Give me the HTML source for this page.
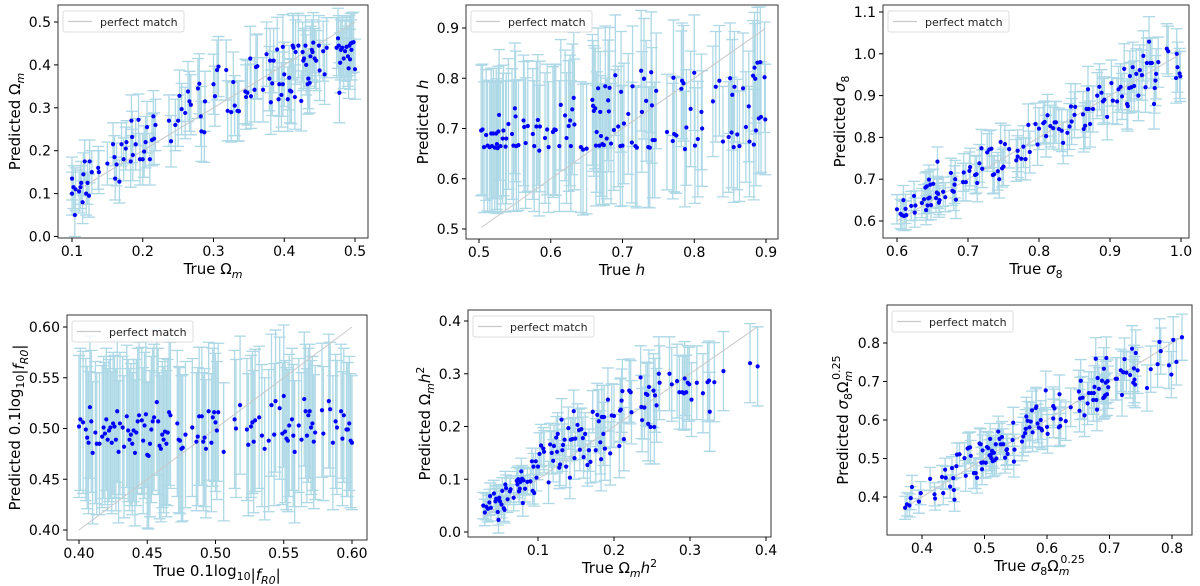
<!DOCTYPE html>
<html><head><meta charset="utf-8"><style>
html,body{margin:0;padding:0;background:#fff;}
svg{display:block;font-family:"DejaVu Sans","Liberation Sans",sans-serif;}
</style></head><body>
<svg id="fig" width="1200" height="586" viewBox="0 0 1200 586" xmlns="http://www.w3.org/2000/svg"></svg>
<script>
// ---------- DATA ----------
const p1X=[0.10,0.10,0.102,0.104,0.105,0.11,0.112,0.113,0.115,0.116,0.118,0.12,0.122,0.124,0.125,0.128,0.137,0.138,0.15,0.158,0.16,0.161,0.163,0.167,0.17,0.173,0.176,0.177,0.183,0.184,0.185,0.186,0.19,0.194,0.196,0.2,0.202,0.204,0.206,0.21,0.213,0.215,0.216,0.218,0.237,0.24,0.246,0.25,0.252,0.255,0.26,0.264,0.266,0.268,0.278,0.28,0.282,0.283,0.287,0.288,0.3,0.302,0.305,0.307,0.318,0.32,0.325,0.328,0.33,0.334,0.336,0.345,0.346,0.348,0.352,0.353,0.358,0.36,0.362,0.37,0.375,0.379,0.38,0.381,0.383,0.385,0.39,0.392,0.393,0.396,0.398,0.398,0.4,0.405,0.407,0.408,0.41,0.412,0.413,0.415,0.416,0.42,0.424,0.426,0.427,0.428,0.43,0.431,0.433,0.434,0.436,0.437,0.439,0.44,0.441,0.443,0.445,0.449,0.45,0.455,0.457,0.46,0.474,0.476,0.477,0.478,0.479,0.48,0.482,0.484,0.486,0.488,0.49,0.491,0.492,0.493,0.494,0.495,0.496,0.498,0.5];
const p1Y=[0.10,0.135,0.115,0.05,0.11,0.105,0.115,0.125,0.08,0.145,0.175,0.10,0.125,0.095,0.175,0.15,0.16,0.15,0.17,0.215,0.185,0.135,0.168,0.128,0.215,0.18,0.205,0.22,0.175,0.27,0.232,0.19,0.215,0.272,0.18,0.18,0.198,0.22,0.255,0.18,0.225,0.28,0.228,0.26,0.27,0.222,0.26,0.27,0.328,0.297,0.288,0.338,0.315,0.307,0.345,0.356,0.28,0.245,0.243,0.315,0.355,0.327,0.388,0.396,0.388,0.293,0.29,0.36,0.305,0.293,0.292,0.338,0.325,0.335,0.415,0.327,0.342,0.395,0.397,0.342,0.425,0.368,0.41,0.313,0.357,0.41,0.436,0.32,0.355,0.33,0.355,0.442,0.378,0.32,0.37,0.34,0.338,0.445,0.44,0.325,0.43,0.445,0.316,0.43,0.41,0.415,0.445,0.40,0.355,0.368,0.358,0.42,0.435,0.43,0.452,0.415,0.41,0.445,0.387,0.432,0.378,0.44,0.44,0.462,0.445,0.335,0.405,0.435,0.44,0.415,0.432,0.442,0.42,0.392,0.445,0.413,0.45,0.435,0.452,0.453,0.39];
const p1Err=[0.05,0.06,0.07,0.075,0.07];

const p2X=[0.503,0.505,0.507,0.51,0.512,0.515,0.517,0.518,0.52,0.522,0.524,0.525,0.526,0.527,0.528,0.53,0.533,0.534,0.537,0.538,0.541,0.546,0.548,0.55,0.551,0.552,0.555,0.562,0.563,0.565,0.568,0.575,0.577,0.58,0.582,0.584,0.585,0.592,0.595,0.597,0.603,0.605,0.607,0.612,0.614,0.62,0.622,0.625,0.627,0.628,0.63,0.632,0.633,0.642,0.645,0.65,0.658,0.659,0.66,0.662,0.663,0.664,0.666,0.668,0.669,0.67,0.672,0.674,0.676,0.678,0.68,0.681,0.682,0.684,0.688,0.69,0.694,0.697,0.698,0.7,0.702,0.708,0.713,0.714,0.718,0.72,0.726,0.727,0.73,0.733,0.736,0.738,0.74,0.741,0.742,0.745,0.747,0.762,0.77,0.771,0.772,0.775,0.782,0.783,0.785,0.787,0.789,0.795,0.8,0.801,0.805,0.81,0.811,0.826,0.83,0.835,0.84,0.848,0.85,0.852,0.853,0.855,0.856,0.86,0.863,0.868,0.872,0.876,0.877,0.882,0.883,0.884,0.885,0.886,0.888,0.89,0.892,0.893,0.898,0.899];
const p2Y=[0.696,0.698,0.663,0.687,0.666,0.663,0.69,0.665,0.69,0.662,0.69,0.669,0.661,0.694,0.727,0.665,0.68,0.696,0.664,0.68,0.709,0.689,0.666,0.74,0.724,0.665,0.667,0.716,0.703,0.671,0.705,0.689,0.665,0.704,0.717,0.656,0.704,0.681,0.698,0.663,0.693,0.698,0.697,0.665,0.747,0.726,0.681,0.705,0.716,0.665,0.738,0.761,0.708,0.663,0.658,0.66,0.757,0.745,0.735,0.74,0.666,0.693,0.78,0.666,0.733,0.685,0.669,0.667,0.784,0.68,0.756,0.734,0.781,0.67,0.697,0.806,0.704,0.665,0.773,0.666,0.71,0.729,0.672,0.784,0.665,0.662,0.815,0.733,0.799,0.755,0.663,0.662,0.812,0.746,0.677,0.677,0.775,0.693,0.675,0.801,0.689,0.686,0.779,0.795,0.79,0.659,0.702,0.739,0.811,0.666,0.679,0.733,0.70,0.754,0.783,0.795,0.674,0.683,0.80,0.692,0.767,0.663,0.783,0.688,0.665,0.78,0.703,0.744,0.674,0.805,0.668,0.821,0.799,0.696,0.831,0.72,0.832,0.723,0.802,0.718];
const p2Err=[0.13,0.13,0.12,0.115,0.11];

const p3X=[0.60,0.605,0.607,0.609,0.61,0.612,0.613,0.62,0.624,0.625,0.626,0.635,0.638,0.64,0.641,0.642,0.643,0.644,0.645,0.646,0.647,0.648,0.651,0.655,0.656,0.657,0.658,0.659,0.66,0.665,0.668,0.676,0.678,0.68,0.681,0.682,0.683,0.693,0.694,0.697,0.702,0.703,0.71,0.712,0.713,0.716,0.719,0.72,0.727,0.73,0.733,0.735,0.737,0.742,0.744,0.746,0.748,0.75,0.752,0.758,0.768,0.77,0.77,0.775,0.778,0.781,0.785,0.787,0.795,0.798,0.80,0.806,0.808,0.81,0.812,0.816,0.82,0.822,0.824,0.828,0.832,0.834,0.84,0.843,0.845,0.846,0.85,0.851,0.862,0.863,0.865,0.867,0.869,0.87,0.872,0.876,0.882,0.885,0.888,0.89,0.892,0.896,0.902,0.904,0.91,0.912,0.915,0.917,0.92,0.924,0.925,0.927,0.928,0.93,0.932,0.934,0.937,0.94,0.942,0.945,0.947,0.95,0.952,0.955,0.957,0.959,0.962,0.963,0.964,0.965,0.968,0.98,0.982,0.993,0.994,0.995,0.998,0.999];
const p3Y=[0.628,0.617,0.614,0.65,0.612,0.629,0.614,0.636,0.66,0.62,0.637,0.643,0.652,0.68,0.626,0.683,0.637,0.654,0.699,0.656,0.687,0.638,0.689,0.655,0.668,0.742,0.665,0.644,0.65,0.67,0.657,0.715,0.672,0.67,0.687,0.70,0.651,0.693,0.716,0.693,0.72,0.729,0.71,0.712,0.691,0.738,0.774,0.725,0.764,0.771,0.773,0.71,0.712,0.719,0.70,0.789,0.726,0.73,0.784,0.772,0.745,0.754,0.768,0.749,0.778,0.748,0.83,0.765,0.832,0.783,0.821,0.834,0.837,0.803,0.853,0.827,0.822,0.836,0.836,0.82,0.816,0.787,0.811,0.826,0.874,0.838,0.854,0.873,0.855,0.82,0.828,0.868,0.915,0.868,0.832,0.868,0.90,0.921,0.907,0.886,0.89,0.849,0.93,0.888,0.886,0.915,0.921,0.898,0.964,0.88,0.875,0.918,0.947,0.92,0.968,0.923,0.952,0.90,0.961,0.949,0.995,0.92,0.978,1.029,0.978,0.978,0.88,0.918,0.936,0.952,0.98,1.012,1.006,0.942,1.0,0.968,0.953,0.946];
const p3Err=[0.035,0.045,0.05,0.055,0.06];

const p4X=[0.40,0.401,0.403,0.405,0.406,0.407,0.408,0.409,0.41,0.412,0.413,0.415,0.417,0.418,0.419,0.42,0.421,0.422,0.423,0.424,0.425,0.426,0.427,0.428,0.429,0.43,0.432,0.433,0.435,0.436,0.437,0.438,0.439,0.44,0.441,0.442,0.443,0.444,0.446,0.447,0.448,0.449,0.45,0.451,0.452,0.453,0.454,0.455,0.457,0.458,0.459,0.46,0.461,0.462,0.463,0.464,0.465,0.466,0.467,0.472,0.473,0.474,0.475,0.476,0.478,0.483,0.486,0.487,0.488,0.49,0.491,0.492,0.493,0.495,0.497,0.498,0.499,0.50,0.501,0.502,0.506,0.514,0.515,0.518,0.523,0.524,0.526,0.527,0.528,0.529,0.532,0.534,0.536,0.539,0.541,0.543,0.544,0.547,0.549,0.55,0.551,0.552,0.553,0.554,0.556,0.557,0.558,0.561,0.563,0.565,0.566,0.567,0.568,0.569,0.57,0.571,0.572,0.573,0.578,0.579,0.583,0.584,0.586,0.588,0.589,0.592,0.593,0.594,0.596,0.597,0.598,0.599,0.60];
const p4Y=[0.502,0.509,0.506,0.499,0.491,0.486,0.521,0.507,0.476,0.496,0.485,0.485,0.492,0.501,0.495,0.509,0.489,0.498,0.501,0.486,0.505,0.502,0.489,0.517,0.477,0.505,0.501,0.482,0.512,0.498,0.489,0.494,0.485,0.498,0.476,0.496,0.507,0.513,0.508,0.488,0.503,0.514,0.474,0.473,0.485,0.499,0.507,0.511,0.526,0.507,0.483,0.48,0.494,0.489,0.497,0.485,0.496,0.516,0.513,0.505,0.489,0.488,0.48,0.481,0.494,0.501,0.487,0.492,0.512,0.512,0.487,0.491,0.48,0.517,0.486,0.511,0.516,0.506,0.498,0.516,0.477,0.509,0.50,0.523,0.499,0.484,0.502,0.506,0.487,0.508,0.511,0.493,0.48,0.488,0.523,0.494,0.527,0.52,0.495,0.532,0.497,0.49,0.488,0.503,0.509,0.493,0.477,0.503,0.489,0.529,0.517,0.493,0.513,0.517,0.501,0.505,0.487,0.496,0.518,0.495,0.527,0.519,0.486,0.507,0.501,0.517,0.49,0.513,0.499,0.499,0.505,0.488,0.486];
const p4Err=[0.07,0.072,0.068,0.07,0.066];

const p5X=[0.028,0.03,0.032,0.034,0.036,0.037,0.038,0.042,0.044,0.045,0.046,0.047,0.048,0.049,0.05,0.052,0.053,0.055,0.056,0.057,0.058,0.06,0.063,0.064,0.068,0.072,0.073,0.074,0.075,0.076,0.077,0.078,0.079,0.08,0.081,0.083,0.086,0.09,0.092,0.093,0.094,0.095,0.097,0.098,0.10,0.102,0.104,0.107,0.108,0.114,0.116,0.118,0.12,0.121,0.124,0.125,0.126,0.128,0.129,0.131,0.132,0.133,0.135,0.137,0.14,0.142,0.143,0.145,0.147,0.148,0.149,0.152,0.154,0.155,0.157,0.159,0.16,0.162,0.165,0.167,0.169,0.172,0.176,0.178,0.18,0.182,0.183,0.184,0.186,0.187,0.188,0.192,0.195,0.197,0.20,0.207,0.208,0.209,0.21,0.211,0.213,0.22,0.222,0.223,0.235,0.236,0.237,0.24,0.242,0.244,0.245,0.246,0.248,0.252,0.253,0.254,0.256,0.259,0.26,0.273,0.276,0.283,0.286,0.29,0.292,0.293,0.295,0.297,0.299,0.302,0.309,0.317,0.323,0.325,0.326,0.332,0.344,0.379,0.389];
const p5Y=[0.05,0.037,0.048,0.044,0.056,0.068,0.046,0.073,0.058,0.063,0.062,0.038,0.023,0.065,0.058,0.052,0.078,0.045,0.042,0.09,0.083,0.062,0.077,0.081,0.065,0.097,0.09,0.10,0.077,0.082,0.095,0.115,0.101,0.055,0.098,0.082,0.095,0.096,0.134,0.078,0.124,0.074,0.134,0.103,0.124,0.148,0.164,0.158,0.152,0.094,0.166,0.15,0.135,0.163,0.179,0.152,0.186,0.122,0.128,0.213,0.155,0.165,0.175,0.124,0.197,0.103,0.175,0.176,0.229,0.14,0.177,0.203,0.193,0.156,0.195,0.178,0.142,0.186,0.127,0.155,0.133,0.228,0.155,0.222,0.21,0.17,0.138,0.218,0.186,0.218,0.158,0.251,0.149,0.221,0.22,0.163,0.23,0.232,0.249,0.267,0.176,0.268,0.265,0.227,0.293,0.237,0.212,0.236,0.262,0.26,0.205,0.275,0.199,0.268,0.199,0.259,0.24,0.30,0.283,0.30,0.28,0.286,0.265,0.265,0.263,0.291,0.265,0.283,0.28,0.251,0.283,0.263,0.284,0.287,0.228,0.284,0.305,0.32,0.314];
const p5Err=[0.025,0.04,0.06,0.07,0.075];

const p6X=[0.373,0.376,0.38,0.382,0.384,0.395,0.398,0.413,0.42,0.421,0.432,0.434,0.437,0.438,0.445,0.448,0.45,0.451,0.452,0.455,0.456,0.46,0.468,0.47,0.473,0.475,0.477,0.478,0.483,0.486,0.488,0.492,0.494,0.495,0.496,0.497,0.498,0.502,0.504,0.506,0.508,0.509,0.51,0.511,0.512,0.513,0.515,0.516,0.518,0.519,0.522,0.524,0.526,0.528,0.53,0.533,0.535,0.536,0.537,0.545,0.546,0.547,0.548,0.56,0.562,0.565,0.566,0.567,0.569,0.572,0.574,0.576,0.577,0.582,0.583,0.585,0.587,0.59,0.591,0.592,0.598,0.60,0.601,0.61,0.61,0.612,0.619,0.62,0.621,0.622,0.63,0.638,0.651,0.652,0.653,0.654,0.657,0.66,0.665,0.667,0.671,0.674,0.675,0.676,0.678,0.679,0.68,0.681,0.683,0.688,0.69,0.691,0.692,0.693,0.694,0.695,0.696,0.697,0.698,0.71,0.712,0.718,0.72,0.722,0.724,0.727,0.733,0.736,0.738,0.739,0.74,0.741,0.742,0.745,0.76,0.766,0.777,0.78,0.782,0.795,0.799,0.802,0.807,0.816];
const p6Y=[0.372,0.381,0.378,0.397,0.426,0.388,0.41,0.447,0.407,0.396,0.452,0.41,0.471,0.45,0.427,0.475,0.449,0.418,0.393,0.48,0.51,0.511,0.501,0.455,0.526,0.528,0.529,0.507,0.462,0.462,0.45,0.539,0.537,0.489,0.472,0.521,0.49,0.489,0.53,0.527,0.508,0.551,0.51,0.501,0.52,0.493,0.515,0.495,0.537,0.50,0.57,0.551,0.537,0.556,0.537,0.502,0.522,0.524,0.512,0.548,0.593,0.492,0.523,0.544,0.557,0.566,0.577,0.609,0.598,0.581,0.596,0.625,0.568,0.631,0.635,0.591,0.58,0.60,0.577,0.573,0.677,0.582,0.564,0.604,0.636,0.63,0.581,0.667,0.584,0.602,0.597,0.633,0.674,0.624,0.656,0.702,0.658,0.612,0.643,0.67,0.67,0.652,0.67,0.686,0.759,0.652,0.627,0.709,0.681,0.702,0.657,0.733,0.66,0.664,0.697,0.761,0.667,0.701,0.685,0.707,0.707,0.729,0.665,0.724,0.758,0.723,0.717,0.785,0.697,0.734,0.705,0.692,0.774,0.729,0.683,0.732,0.745,0.803,0.779,0.742,0.718,0.808,0.751,0.815];
const p6Err=[0.03,0.04,0.05,0.055,0.06];

const p1XTicks=[0.1,0.2,0.3,0.4,0.5], p1YTicks=[0.0,0.1,0.2,0.3,0.4,0.5];
const p2XTicks=[0.5,0.6,0.7,0.8,0.9], p2YTicks=[0.5,0.6,0.7,0.8,0.9];
const p3XTicks=[0.6,0.7,0.8,0.9,1.0], p3YTicks=[0.6,0.7,0.8,0.9,1.0,1.1];
const p4XTicks=[0.40,0.45,0.50,0.55,0.60], p4YTicks=[0.40,0.45,0.50,0.55,0.60];
const p5XTicks=[0.1,0.2,0.3,0.4], p5YTicks=[0.0,0.1,0.2,0.3,0.4];
const p6XTicks=[0.4,0.5,0.6,0.7,0.8], p6YTicks=[0.4,0.5,0.6,0.7,0.8];

// ---------- DRAW ----------
const NS="http://www.w3.org/2000/svg";
const svg=document.getElementById('fig');
function mk(tag,attrs,parent){const e=document.createElementNS(NS,tag);for(const k in attrs)e.setAttribute(k,attrs[k]);(parent||svg).appendChild(e);return e;}

const SUBM='<tspan font-style="italic" dy="4" font-size="11">m</tspan><tspan dy="-4"></tspan>';
const S8='<tspan font-style="italic">σ</tspan><tspan dy="4" font-size="11">8</tspan><tspan dy="-4"></tspan>';
const FR0='|<tspan font-style="italic">f</tspan><tspan dy="4" font-size="11" font-style="italic">R0</tspan><tspan dy="-4">|</tspan>';
const LOG='0.1log<tspan dy="4" font-size="11">10</tspan><tspan dy="-4"></tspan>';
const MH2='Ω<tspan font-style="italic" dy="4" font-size="11">m</tspan><tspan dy="-4" font-style="italic">h</tspan><tspan dy="-6" font-size="11">2</tspan><tspan dy="6"></tspan>';
const S8OM='<tspan font-style="italic">σ</tspan><tspan dy="4" font-size="11">8</tspan><tspan dy="-4">Ω</tspan><tspan font-style="italic" dy="4" font-size="11">m</tspan><tspan dx="-9" dy="-12" font-size="11">0.25</tspan><tspan dy="8"></tspan>';

const panels=[
 {id:'omega-m',X:p1X,Y:p1Y,E:p1Err,xt:p1XTicks,yt:p1YTicks,dec:1,box:[58,5,368,238],xa:[0.1,72,0.5,355],ya:[0.0,236.5,0.5,22],xl:'True Ω'+SUBM,yl:'Predicted Ω'+SUBM,ylx:15},
 {id:'h',X:p2X,Y:p2Y,E:p2Err,xt:p2XTicks,yt:p2YTicks,dec:1,box:[466,5,778,239],xa:[0.5,479,0.9,766],ya:[0.5,229,0.9,28],xl:'True <tspan font-style="italic">h</tspan>',yl:'Predicted <tspan font-style="italic">h</tspan>',ylx:423},
 {id:'sigma8',X:p3X,Y:p3Y,E:p3Err,xt:p3XTicks,yt:p3YTicks,dec:1,box:[883,5,1189,238],xa:[0.6,897,1.0,1181],ya:[0.6,221,1.1,12],xl:'True '+S8,yl:'Predicted '+S8,ylx:840},
 {id:'fr0',X:p4X,Y:p4Y,E:p4Err,xt:p4XTicks,yt:p4YTicks,dec:2,box:[67,315,367,540],xa:[0.40,79,0.60,352],ya:[0.40,530,0.60,327],xl:'True '+LOG+FR0,yl:'Predicted '+LOG+FR0,ylx:15},
 {id:'omega-m-h2',X:p5X,Y:p5Y,E:p5Err,xt:p5XTicks,yt:p5YTicks,dec:1,box:[468,310,771,537],xa:[0.1,538,0.4,766],ya:[0.0,532,0.4,321],xl:'True '+MH2,yl:'Predicted '+MH2,ylx:425},
 {id:'s8',X:p6X,Y:p6Y,E:p6Err,xt:p6XTicks,yt:p6YTicks,dec:1,box:[887,305,1192,535],xa:[0.4,922,0.8,1172],ya:[0.4,497,0.8,343],xl:'True '+S8OM,yl:'Predicted '+S8OM,ylx:843}
];

panels.forEach(p=>{
  const g=mk('g',{});
  
  
  const [L,T,R,B]=p.box;
  const sx=v=>p.xa[1]+(v-p.xa[0])*(p.xa[3]-p.xa[1])/(p.xa[2]-p.xa[0]);
  const sy=v=>p.ya[1]+(v-p.ya[0])*(p.ya[3]-p.ya[1])/(p.ya[2]-p.ya[0]);
  const xmin=Math.min(...p.X), xmax=Math.max(...p.X);
  const errFor=x=>{let i=Math.floor((x-xmin)/(xmax-xmin)*p.E.length);if(i>=p.E.length)i=p.E.length-1;if(i<0)i=0;return p.E[i];};
  const clip='clip-'+p.id;
  const cp=mk('clipPath',{id:clip},g);mk('rect',{x:L,y:T,width:R-L,height:B-T},cp);
  const plot=mk('g',{'clip-path':'url(#'+clip+')'},g);
  const eg=mk('g',{stroke:'#add8e6','stroke-width':1.3,fill:'none'},plot);
  
  
  p.X.forEach((x,i)=>{
    const e=errFor(x),cx=sx(x),y1=sy(p.Y[i]+e),y2=sy(p.Y[i]-e);
    const path=mk('path',{d:`M${cx},${y1}V${y2}M${cx-6},${y1}H${cx+6}M${cx-6},${y2}H${cx+6}`},eg);
    
    
  });
  const pm=mk('line',{x1:sx(xmin),y1:sy(xmin),x2:sx(xmax),y2:sy(xmax),stroke:'#c8c8c8','stroke-width':1},plot);
  
  
  const pg=mk('g',{fill:'#0000ff'},plot);
  
  
  p.X.forEach((x,i)=>{
    const c=mk('circle',{cx:sx(x),cy:sy(p.Y[i]),r:2.1},pg);
    
    
  });
  const fr=mk('rect',{x:L,y:T,width:R-L,height:B-T,fill:'none',stroke:'#333','stroke-width':1},g);
  
  
  p.xt.forEach(t=>{
    const x=sx(t);
    mk('line',{x1:x,y1:B,x2:x,y2:B+4,stroke:'#000'},g);
    const tx=mk('text',{x:x,y:B+18,'text-anchor':'middle','font-size':14,fill:'#000'},g);
    tx.textContent=t.toFixed(p.dec);
    
    
  });
  p.yt.forEach(t=>{
    const y=sy(t);
    mk('line',{x1:L,y1:y,x2:L-4,y2:y,stroke:'#000'},g);
    const tx=mk('text',{x:L-7,y:y+5,'text-anchor':'end','font-size':14,fill:'#000'},g);
    tx.textContent=t.toFixed(p.dec);
    
    
  });
  const xl=mk('text',{x:(L+R)/2,y:B+36,'text-anchor':'middle','font-size':15,fill:'#000'},g);
  xl.innerHTML=p.xl;
  
  
  const cy=(T+B)/2;
  const yl=mk('text',{x:p.ylx,y:cy+5,'text-anchor':'middle','font-size':15,fill:'#000',transform:`rotate(-90 ${p.ylx} ${cy})`},g);
  yl.innerHTML=p.yl;
  
  
  const lg=mk('g',{},g);
  
  
  mk('rect',{x:L+5,y:T+6,width:121,height:21,rx:2,fill:'#fff','fill-opacity':0.8,stroke:'#ddd'},lg);
  mk('line',{x1:L+10,y1:T+16.5,x2:L+34,y2:T+16.5,stroke:'#c8c8c8','stroke-width':1.2},lg);
  const lt=mk('text',{x:L+42,y:T+21,'font-size':11,fill:'#222'},lg);
  lt.textContent='perfect match';
  
  
});
</script>
</body></html>
